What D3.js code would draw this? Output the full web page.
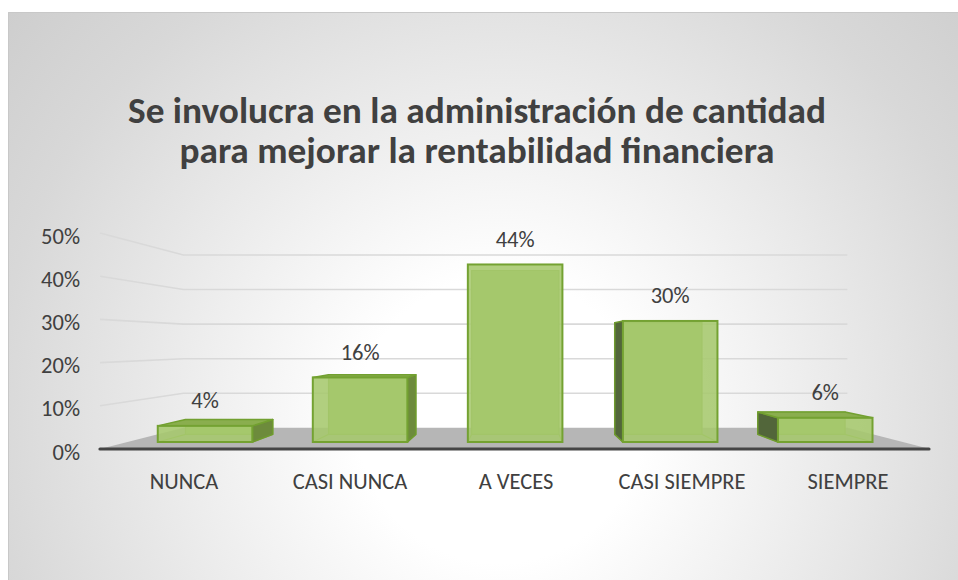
<!DOCTYPE html>
<html>
<head>
<meta charset="utf-8">
<script src="https://cdn.jsdelivr.net/npm/d3@7"></script>
<style>
html,body{margin:0;padding:0;background:#fff;}
svg{display:block;}
</style>
</head>
<body>
<svg id="chart" width="958" height="580"></svg>
<script>
const categories = ["NUNCA", "CASI NUNCA", "A VECES", "CASI SIEMPRE", "SIEMPRE"];
const values = [0.04, 0.16, 0.44, 0.30, 0.06];
const valueLabels = ["4%", "16%", "44%", "30%", "6%"];
const yTicks = [0, 0.1, 0.2, 0.3, 0.4, 0.5];
const titleLines = ["Se involucra en la administración de cantidad", "para mejorar la rentabilidad financiera"];

const W = 958, H = 580;
const svg = d3.select("#chart");
const FONT = "Carlito, Calibri, Lato, 'Open Sans', sans-serif";
const LABEL_SIZE = 22.5;

// background
const defs = svg.append("defs");
const rg = defs.append("radialGradient").attr("id", "bg")
  .attr("gradientUnits", "userSpaceOnUse")
  .attr("cx", 500).attr("cy", 420).attr("r", 650);
rg.append("stop").attr("offset", 0).attr("stop-color", "#ffffff");
rg.append("stop").attr("offset", 0.22).attr("stop-color", "#ffffff");
rg.append("stop").attr("offset", 0.78).attr("stop-color", "#d8d8d8");
rg.append("stop").attr("offset", 1).attr("stop-color", "#cdcdcd");

svg.append("rect").attr("x", 8).attr("y", 12).attr("width", W).attr("height", H)
  .attr("fill", "url(#bg)");
svg.append("path").attr("d", `M8.5,${H} V12.5 H${W}`).attr("fill", "none")
  .attr("stroke", "#c8c8c8").attr("stroke-width", 1);

// title
const title = svg.append("g");
titleLines.forEach((t, i) => {
  title.append("text")
    .attr("x", 477).attr("y", 123 + i * 40)
    .attr("text-anchor", "middle")
    .attr("font-family", FONT).attr("font-weight", "bold")
    .attr("font-size", 36).attr("fill", "#404040")
    .attr("textLength", i === 0 ? 698 : 595)
    .attr("lengthAdjust", "spacingAndGlyphs")
    .text(t);
});

// scales (front plane coordinates)
const x = d3.scaleBand().domain(categories).range([100, 930]).paddingInner(0.39).paddingOuter(0.195);
const y = d3.scaleLinear().domain([0, 0.5]).range([449, 233]);

// simple perspective
const vp = {x: 517, y: 343};
const P = (X, Y, s) => [vp.x + (X - vp.x) * s, vp.y + (Y - vp.y) * s];
const S_BACK = 0.80, S_FRONT = 0.934, S_BBACK = 0.862;
const X0 = x.range()[0], X1 = x.range()[1];

// floor
svg.append("polygon")
  .attr("points", [P(X0, y(0), 1), P(X0, y(0), S_BACK), P(X1, y(0), S_BACK), P(X1, y(0), 1)].map(p => p.join(",")).join(" "))
  .attr("fill", "#b6b6b6");

// gridlines
yTicks.filter(t => t > 0).forEach(t => {
  const pts = [P(X0, y(t), 1), P(X0, y(t), S_BACK), P(X1, y(t), S_BACK)];
  svg.append("polyline").attr("points", pts.map(p => p.join(",")).join(" "))
    .attr("fill", "none").attr("stroke", "#d9d9d9").attr("stroke-width", 1.6);
});

// axis line
svg.append("line").attr("x1", X0).attr("x2", X1 - 1).attr("y1", y(0)).attr("y2", y(0))
  .attr("stroke", "#454545").attr("stroke-width", 3.2).attr("stroke-linecap", "round");

// y tick labels
yTicks.forEach(t => {
  svg.append("text").attr("x", 80).attr("y", y(t) + 3)
    .attr("text-anchor", "end").attr("dominant-baseline", "central")
    .attr("font-family", FONT).attr("font-size", LABEL_SIZE).attr("fill", "#404040")
    .text(d3.format(".0%")(t));
});

// category labels
categories.forEach(c => {
  svg.append("text").attr("x", x(c) + x.bandwidth() / 2 + 1).attr("y", 481)
    .attr("text-anchor", "middle").attr("dominant-baseline", "central")
    .attr("font-family", FONT).attr("font-size", LABEL_SIZE).attr("fill", "#404040")
    .text(c);
});

// bars
const pts = a => a.map(p => p.join(",")).join(" ");
const barG = svg.append("g");
categories.forEach((c, i) => {
  const v = values[i];
  const xl = x(c), xr = x(c) + x.bandwidth();
  const yt = y(v), yb = y(0);
  const fTL = P(xl, yt, S_FRONT), fTR = P(xr, yt, S_FRONT), fBL = P(xl, yb, S_FRONT), fBR = P(xr, yb, S_FRONT);
  const bTL = P(xl, yt, S_BBACK), bTR = P(xr, yt, S_BBACK), bBL = P(xl, yb, S_BBACK), bBR = P(xr, yb, S_BBACK);
  const g = barG.append("g");
  // hidden back edges (seen through transparency)
  g.append("polygon").attr("points", pts([bTL, bTR, bBR, bBL]))
    .attr("fill", "#9cc064").attr("stroke", "#86ad45").attr("stroke-width", 1.2);
  g.append("line").attr("x1", fBL[0]).attr("y1", fBL[1]).attr("x2", bBL[0]).attr("y2", bBL[1])
    .attr("stroke", "#86ad45").attr("stroke-width", 1.2);
  g.append("line").attr("x1", fBR[0]).attr("y1", fBR[1]).attr("x2", bBR[0]).attr("y2", bBR[1])
    .attr("stroke", "#86ad45").attr("stroke-width", 1.2);
  // side faces
  if (bTR[0] > fTR[0] + 0.5) {
    g.append("polygon").attr("points", pts([fTR, bTR, bBR, fBR]))
      .attr("fill", "#6d8b3c").attr("stroke", "#6e9a2e").attr("stroke-width", 1.5).attr("stroke-linejoin", "round");
  }
  if (bTL[0] < fTL[0] - 0.5) {
    g.append("polygon").attr("points", pts([fTL, bTL, bBL, fBL]))
      .attr("fill", "#52663a").attr("stroke", "#6e9a2e").attr("stroke-width", 1.5).attr("stroke-linejoin", "round");
  }
  // top face
  if (bTL[1] < fTL[1] - 0.5) {
    g.append("polygon").attr("points", pts([fTL, fTR, bTR, bTL]))
      .attr("fill", "#8aae4e").attr("stroke", "#72a030").attr("stroke-width", 1.5).attr("stroke-linejoin", "round");
  }
  // front face
  g.append("rect").attr("x", fTL[0]).attr("y", fTL[1])
    .attr("width", fTR[0] - fTL[0]).attr("height", fBL[1] - fTL[1])
    .attr("fill", "#a6c86d").attr("fill-opacity", 0.88)
    .attr("stroke", "#74a232").attr("stroke-width", 2);
  // data label
  svg.append("text").attr("x", (fTL[0] + fTR[0]) / 2).attr("y", fTL[1] - 25)
    .attr("text-anchor", "middle").attr("dominant-baseline", "central")
    .attr("font-family", FONT).attr("font-size", LABEL_SIZE).attr("fill", "#404040")
    .text(valueLabels[i]);
});
</script>
</body>
</html>
